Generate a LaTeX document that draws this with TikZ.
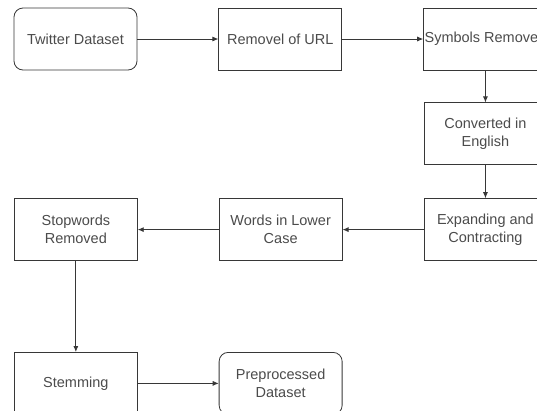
\documentclass[tikz,border=0pt]{standalone}
\usepackage{fontspec}
\setmainfont{Liberation Sans}
\usepackage{tikz}
\usetikzlibrary{positioning,arrows.meta}
\definecolor{linegray}{RGB}{55,55,55}
\definecolor{textgray}{RGB}{75,75,75}

\begin{document}
\begin{tikzpicture}[x=1pt, y=1pt, node distance=81pt]

\tikzstyle{block} = [rectangle, minimum width=123pt, minimum height=62pt, align=center, draw=linegray, line width=0.8pt, text=textgray, inner xsep=1pt, font=\fontsize{14.5}{18}\selectfont];
\tikzstyle{term} = [block, rounded corners=9pt];
\tikzstyle{line} = [draw=linegray, line width=0.8pt, -{Latex[length=6pt,width=5pt]}];

\useasboundingbox (0,0) rectangle (537,-410);

% Row 1 - input
\node (twitter) [term] at (75.5,-39) {Twitter Dataset};
\node (url) [block, right=of twitter] {Removel of URL};
\node (symbols) [block, right=of url] {Symbols Removed};

% Right column
\node (english) [block, below=32pt of symbols] {Converted in\\English};
\node (expand) [block, below=33pt of english] {Expanding and\\Contracting};

% Row 3 - back to the left
\node (lower) [block, left=of expand] {Words in Lower\\Case};
\node (stopwords) [block, left=of lower] {Stopwords\\Removed};

% Row 4 - output
\node (stemming) [block, below=91pt of stopwords] {Stemming};
\node (output) [term, right=of stemming] {Preprocessed\\Dataset};

% Connections
\draw[line] (twitter) -- (url);
\draw[line] (url) -- (symbols);
\draw[line] (symbols) -- (english);
\draw[line] (english) -- (expand);
\draw[line] (expand) -- (lower);
\draw[line] (lower) -- (stopwords);
\draw[line] (stopwords) -- (stemming);
\draw[line] (stemming) -- (output);

\end{tikzpicture}
\end{document}
